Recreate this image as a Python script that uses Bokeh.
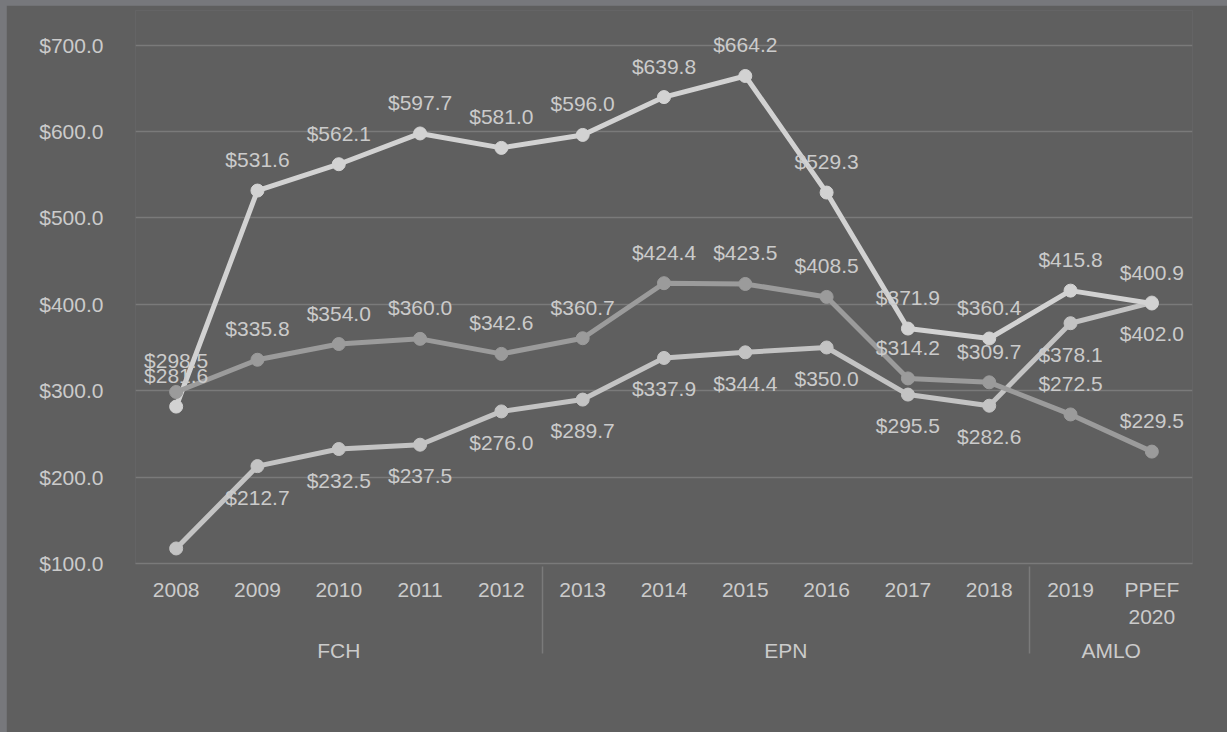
from bokeh.plotting import figure
from bokeh.models import (FactorRange, Range1d, ColumnDataSource, LabelSet, Legend,
                          LegendItem, NumeralTickFormatter, FixedTicker)
from bokeh.core.properties import value
from bokeh.embed import file_html
from bokeh.resources import INLINE

# ---- data ----
groups = ["FCH"] * 5 + ["EPN"] * 6 + ["AMLO"] * 2
years = ["2008", "2009", "2010", "2011", "2012", "2013", "2014", "2015", "2016",
         "2017", "2018", "2019", "PPEF\n2020"]
otros = [117.4, 212.7, 232.5, 237.5, 276.0, 289.7, 337.9, 344.4, 350.0, 295.5, 282.6, 378.1, 402.0]
proyectos = [281.6, 531.6, 562.1, 597.7, 581.0, 596.0, 639.8, 664.2, 529.3, 371.9, 360.4, 415.8, 400.9]
sujetos = [298.5, 335.8, 354.0, 360.0, 342.6, 360.7, 424.4, 423.5, 408.5, 314.2, 309.7, 272.5, 229.5]
y_ticks = [100, 200, 300, 400, 500, 600, 700]

BG = "#5f5f5f"
TXT = "#cbcbcb"
GRID = "#7a7a7a"
FONT = "Liberation Sans"

factors = list(zip(groups, years))
src = ColumnDataSource(dict(
    x=factors, otros=otros, proyectos=proyectos, sujetos=sujetos,
    otros_lbl=["$%.1f" % v for v in otros],
    proyectos_lbl=["$%.1f" % v for v in proyectos],
    sujetos_lbl=["$%.1f" % v for v in sujetos],
))

p = figure(frame_width=1057, frame_height=553, output_backend="svg", toolbar_location=None,
           x_range=FactorRange(*factors, group_padding=0, factor_padding=0, range_padding=0),
           y_range=Range1d(100, 740),
           min_border_left=129, min_border_right=35, min_border_top=5, min_border_bottom=0)
p.background_fill_color = BG
p.border_fill_color = BG
p.outline_line_color = None

# y axis
p.yaxis.ticker = FixedTicker(ticks=y_ticks)
p.yaxis.formatter = NumeralTickFormatter(format="$0.0")
p.yaxis.axis_line_color = None
p.yaxis.major_tick_line_color = None
p.yaxis.minor_tick_line_color = None
p.yaxis.major_label_text_color = TXT
p.yaxis.major_label_text_font = FONT
p.yaxis.major_label_text_font_size = "21px"
p.yaxis.major_label_standoff = 26
p.ygrid.grid_line_color = GRID
p.ygrid.grid_line_width = 1.5
p.xgrid.grid_line_color = None

# x axis
xa = p.xaxis[0]
xa.axis_line_color = GRID
xa.axis_line_width = 1.5
xa.major_tick_line_color = None
xa.minor_tick_line_color = None
xa.major_label_text_color = TXT
xa.major_label_text_font = FONT
xa.major_label_text_font_size = "21px"
xa.major_label_standoff = 8
xa.group_text_color = TXT
xa.group_text_font = FONT
xa.group_text_font_size = "21px"
xa.group_text_font_style = "normal"
xa.separator_line_color = GRID
xa.separator_line_width = 1.5

series = [
    ("Otros Subsidios", "otros", "#c3c3c3", -31),
    ("Proyectos de Inversion", "proyectos", "#d2d2d2", 31),
    ("Sujetos a Reglas de Operacion", "sujetos", "#9b9b9b", 31),
]
items = []
for name, col, color, off in series:
    ln = p.line(x="x", y=col, source=src, line_color=color, line_width=5)
    sc = p.scatter(x="x", y=col, source=src, size=13, fill_color=color, line_color=color)
    items.append(LegendItem(label=name, renderers=[ln, sc]))
    p.add_layout(LabelSet(x="x", y=col, text=col + "_lbl", source=src, y_offset=off,
                          text_align="center", text_baseline="middle",
                          text_color=TXT, text_font=value(FONT), text_font_size="21px"))

legend = Legend(items=items, orientation="horizontal", location=(-41, 0),
                label_text_font=FONT, label_text_font_size="24px",
                label_text_font_style="bold", label_text_color=TXT,
                background_fill_alpha=0, border_line_color=None,
                glyph_width=58, label_standoff=2, spacing=20, padding=4, margin=0)
p.add_layout(legend, "below")

html = file_html(p, INLINE)
html = html.replace("</head>",
                    "<style>html,body{background:#77787c !important;margin:0 !important;}"
                    "body{padding:5px 0 0 6px !important;overflow:hidden;}</style></head>", 1)
open("out.html", "w").write(html)
